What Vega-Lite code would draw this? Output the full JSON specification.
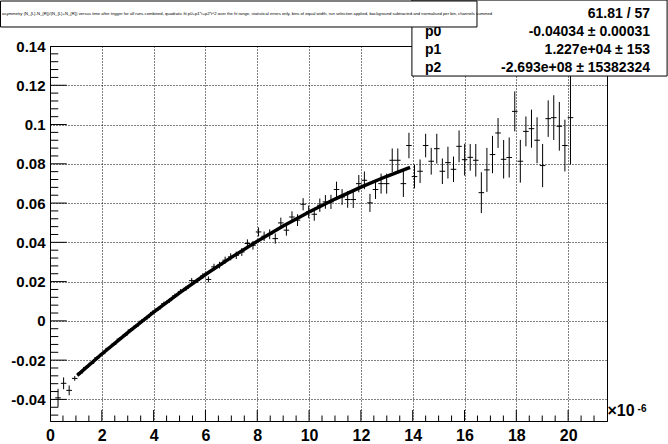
{
  "$schema": "https://vega.github.io/schema/vega-lite/v6.json",
  "autosize": "none",
  "width": 557,
  "height": 375,
  "padding": {"left": 50, "top": 46, "right": 61, "bottom": 23},
  "background": "white",
  "config": {
    "view": {"stroke": "black", "strokeWidth": 1},
    "font": "Liberation Sans"
  },
  "datasets": {
    "points": [
      {"x": 0.31, "y": -0.0392, "ey": 0.0046, "ex": 0.1075},
      {"x": 0.525, "y": -0.0318, "ey": 0.0030, "ex": 0.1075},
      {"x": 0.74, "y": -0.0354, "ey": 0.0025, "ex": 0.1075},
      {"x": 0.955, "y": -0.0293, "ey": 0.0012, "ex": 0.1075},
      {"x": 1.17, "y": -0.0265, "ey": 0.0008, "ex": 0.1075},
      {"x": 1.385, "y": -0.0237, "ey": 0.0008, "ex": 0.1075},
      {"x": 1.6, "y": -0.0216, "ey": 0.0008, "ex": 0.1075},
      {"x": 1.815, "y": -0.0188, "ey": 0.0008, "ex": 0.1075},
      {"x": 2.03, "y": -0.0167, "ey": 0.0008, "ex": 0.1075},
      {"x": 2.245, "y": -0.0140, "ey": 0.0008, "ex": 0.1075},
      {"x": 2.46, "y": -0.0119, "ey": 0.0009, "ex": 0.1075},
      {"x": 2.675, "y": -0.0093, "ey": 0.0009, "ex": 0.1075},
      {"x": 2.89, "y": -0.0073, "ey": 0.0009, "ex": 0.1075},
      {"x": 3.105, "y": -0.0046, "ey": 0.0009, "ex": 0.1075},
      {"x": 3.32, "y": -0.0027, "ey": 0.0009, "ex": 0.1075},
      {"x": 3.535, "y": -0.0002, "ey": 0.0010, "ex": 0.1075},
      {"x": 3.75, "y": 0.0017, "ey": 0.0010, "ex": 0.1075},
      {"x": 3.965, "y": 0.0043, "ey": 0.0010, "ex": 0.1075},
      {"x": 4.18, "y": 0.0061, "ey": 0.0010, "ex": 0.1075},
      {"x": 4.395, "y": 0.0087, "ey": 0.0011, "ex": 0.1075},
      {"x": 4.61, "y": 0.0103, "ey": 0.0011, "ex": 0.1075},
      {"x": 4.825, "y": 0.0128, "ey": 0.0011, "ex": 0.1075},
      {"x": 5.04, "y": 0.0150, "ey": 0.0012, "ex": 0.1075},
      {"x": 5.255, "y": 0.0166, "ey": 0.0012, "ex": 0.1075},
      {"x": 5.47, "y": 0.0205, "ey": 0.0013, "ex": 0.1075},
      {"x": 5.685, "y": 0.0206, "ey": 0.0013, "ex": 0.1075},
      {"x": 5.9, "y": 0.0229, "ey": 0.0014, "ex": 0.1075},
      {"x": 6.115, "y": 0.0211, "ey": 0.0015, "ex": 0.1075},
      {"x": 6.33, "y": 0.0275, "ey": 0.0016, "ex": 0.1075},
      {"x": 6.545, "y": 0.0284, "ey": 0.0017, "ex": 0.1075},
      {"x": 6.76, "y": 0.0309, "ey": 0.0018, "ex": 0.1075},
      {"x": 6.975, "y": 0.0326, "ey": 0.0018, "ex": 0.1075},
      {"x": 7.19, "y": 0.0334, "ey": 0.0019, "ex": 0.1075},
      {"x": 7.405, "y": 0.0351, "ey": 0.0020, "ex": 0.1075},
      {"x": 7.62, "y": 0.0394, "ey": 0.0021, "ex": 0.1075},
      {"x": 7.835, "y": 0.0385, "ey": 0.0022, "ex": 0.1075},
      {"x": 8.05, "y": 0.0453, "ey": 0.0023, "ex": 0.1075},
      {"x": 8.265, "y": 0.0431, "ey": 0.0024, "ex": 0.1075},
      {"x": 8.48, "y": 0.0441, "ey": 0.0025, "ex": 0.1075},
      {"x": 8.695, "y": 0.0419, "ey": 0.0026, "ex": 0.1075},
      {"x": 8.91, "y": 0.0499, "ey": 0.0027, "ex": 0.1075},
      {"x": 9.125, "y": 0.0462, "ey": 0.0028, "ex": 0.1075},
      {"x": 9.34, "y": 0.0529, "ey": 0.0029, "ex": 0.1075},
      {"x": 9.555, "y": 0.0513, "ey": 0.0030, "ex": 0.1075},
      {"x": 9.77, "y": 0.0594, "ey": 0.0031, "ex": 0.1075},
      {"x": 9.985, "y": 0.0555, "ey": 0.0032, "ex": 0.1075},
      {"x": 10.2, "y": 0.0543, "ey": 0.0033, "ex": 0.1075},
      {"x": 10.415, "y": 0.0589, "ey": 0.0034, "ex": 0.1075},
      {"x": 10.63, "y": 0.0606, "ey": 0.0035, "ex": 0.1075},
      {"x": 10.845, "y": 0.0606, "ey": 0.0036, "ex": 0.1075},
      {"x": 11.06, "y": 0.0669, "ey": 0.0040, "ex": 0.1075},
      {"x": 11.275, "y": 0.0631, "ey": 0.0040, "ex": 0.1075},
      {"x": 11.49, "y": 0.0618, "ey": 0.0042, "ex": 0.1075},
      {"x": 11.705, "y": 0.0618, "ey": 0.0043, "ex": 0.1075},
      {"x": 11.92, "y": 0.0699, "ey": 0.0044, "ex": 0.1075},
      {"x": 12.135, "y": 0.0716, "ey": 0.0045, "ex": 0.1075},
      {"x": 12.35, "y": 0.0601, "ey": 0.0046, "ex": 0.1075},
      {"x": 12.565, "y": 0.0669, "ey": 0.0048, "ex": 0.1075},
      {"x": 12.78, "y": 0.0699, "ey": 0.0051, "ex": 0.1075},
      {"x": 12.995, "y": 0.0699, "ey": 0.0051, "ex": 0.1075},
      {"x": 13.21, "y": 0.0818, "ey": 0.0060, "ex": 0.1075},
      {"x": 13.425, "y": 0.0818, "ey": 0.0060, "ex": 0.1075},
      {"x": 13.64, "y": 0.0699, "ey": 0.0068, "ex": 0.1075},
      {"x": 13.855, "y": 0.0893, "ey": 0.0065, "ex": 0.1075},
      {"x": 14.07, "y": 0.0735, "ey": 0.0060, "ex": 0.1075},
      {"x": 14.285, "y": 0.0762, "ey": 0.0060, "ex": 0.1075},
      {"x": 14.5, "y": 0.0893, "ey": 0.0060, "ex": 0.1075},
      {"x": 14.715, "y": 0.0813, "ey": 0.0068, "ex": 0.1075},
      {"x": 14.93, "y": 0.0877, "ey": 0.0076, "ex": 0.1075},
      {"x": 15.145, "y": 0.0762, "ey": 0.0065, "ex": 0.1075},
      {"x": 15.36, "y": 0.0806, "ey": 0.0081, "ex": 0.1075},
      {"x": 15.575, "y": 0.0772, "ey": 0.0065, "ex": 0.1075},
      {"x": 15.79, "y": 0.0889, "ey": 0.0081, "ex": 0.1075},
      {"x": 16.005, "y": 0.0821, "ey": 0.0081, "ex": 0.1075},
      {"x": 16.22, "y": 0.0833, "ey": 0.0068, "ex": 0.1075},
      {"x": 16.435, "y": 0.0818, "ey": 0.0083, "ex": 0.1075},
      {"x": 16.65, "y": 0.0653, "ey": 0.0104, "ex": 0.1075},
      {"x": 16.865, "y": 0.0769, "ey": 0.0112, "ex": 0.1075},
      {"x": 17.08, "y": 0.0847, "ey": 0.0095, "ex": 0.1075},
      {"x": 17.295, "y": 0.0957, "ey": 0.0076, "ex": 0.1075},
      {"x": 17.51, "y": 0.0823, "ey": 0.0098, "ex": 0.1075},
      {"x": 17.725, "y": 0.0832, "ey": 0.0102, "ex": 0.1075},
      {"x": 17.94, "y": 0.1067, "ey": 0.0102, "ex": 0.1075},
      {"x": 18.155, "y": 0.0813, "ey": 0.0109, "ex": 0.1075},
      {"x": 18.37, "y": 0.0965, "ey": 0.0076, "ex": 0.1075},
      {"x": 18.585, "y": 0.0979, "ey": 0.0097, "ex": 0.1075},
      {"x": 18.8, "y": 0.0920, "ey": 0.0117, "ex": 0.1075},
      {"x": 19.015, "y": 0.0791, "ey": 0.0110, "ex": 0.1075},
      {"x": 19.23, "y": 0.1030, "ey": 0.0093, "ex": 0.1075},
      {"x": 19.445, "y": 0.1035, "ey": 0.0114, "ex": 0.1075},
      {"x": 19.66, "y": 0.0991, "ey": 0.0124, "ex": 0.1075},
      {"x": 19.875, "y": 0.0893, "ey": 0.0132, "ex": 0.1075},
      {"x": 20.09, "y": 0.1035, "ey": 0.0238, "ex": 0.1075}
    ],
    "fit": [
      {"x": 1.05, "y": -0.027754},
      {"x": 2, "y": -0.016877},
      {"x": 3, "y": -0.005954},
      {"x": 4, "y": 0.004431},
      {"x": 5, "y": 0.014277},
      {"x": 6, "y": 0.023585},
      {"x": 7, "y": 0.032354},
      {"x": 8, "y": 0.040585},
      {"x": 9, "y": 0.048277},
      {"x": 10, "y": 0.05543},
      {"x": 11, "y": 0.062045},
      {"x": 12, "y": 0.068121},
      {"x": 13, "y": 0.073658},
      {"x": 13.9, "y": 0.078181}
    ],
    "xmajor": [{"v": 2}, {"v": 4}, {"v": 6}, {"v": 8}, {"v": 10}, {"v": 12}, {"v": 14}, {"v": 16}, {"v": 18}, {"v": 20}],
    "xminor": [{"v": 0.5}, {"v": 1}, {"v": 1.5}, {"v": 2.5}, {"v": 3}, {"v": 3.5}, {"v": 4.5}, {"v": 5}, {"v": 5.5}, {"v": 6.5}, {"v": 7}, {"v": 7.5}, {"v": 8.5}, {"v": 9}, {"v": 9.5}, {"v": 10.5}, {"v": 11}, {"v": 11.5}, {"v": 12.5}, {"v": 13}, {"v": 13.5}, {"v": 14.5}, {"v": 15}, {"v": 15.5}, {"v": 16.5}, {"v": 17}, {"v": 17.5}, {"v": 18.5}, {"v": 19}, {"v": 19.5}, {"v": 20.5}, {"v": 21}],
    "ymajor": [{"v": -0.04}, {"v": -0.02}, {"v": 0}, {"v": 0.02}, {"v": 0.04}, {"v": 0.06}, {"v": 0.08}, {"v": 0.1}, {"v": 0.12}],
    "yminor": [{"v": -0.048}, {"v": -0.044}, {"v": -0.036}, {"v": -0.032}, {"v": -0.028}, {"v": -0.024}, {"v": -0.016}, {"v": -0.012}, {"v": -0.008}, {"v": -0.004}, {"v": 0.004}, {"v": 0.008}, {"v": 0.012}, {"v": 0.016}, {"v": 0.024}, {"v": 0.028}, {"v": 0.032}, {"v": 0.036}, {"v": 0.044}, {"v": 0.048}, {"v": 0.052}, {"v": 0.056}, {"v": 0.064}, {"v": 0.068}, {"v": 0.072}, {"v": 0.076}, {"v": 0.084}, {"v": 0.088}, {"v": 0.092}, {"v": 0.096}, {"v": 0.104}, {"v": 0.108}, {"v": 0.112}, {"v": 0.116}, {"v": 0.124}, {"v": 0.128}, {"v": 0.132}, {"v": 0.136}]
  },
  "layer": [
    {
      "data": {"name": "fit"},
      "mark": {"type": "line", "color": "black", "strokeWidth": 3.5},
      "encoding": {
        "x": {
          "field": "x", "type": "quantitative", "title": null,
          "scale": {"domain": [0, 21.5], "nice": false, "zero": false},
          "axis": {
            "values": [0, 2, 4, 6, 8, 10, 12, 14, 16, 18, 20],
            "domainColor": "black",
            "ticks": false,
            "grid": true,
            "gridColor": "black",
            "gridOpacity": 1,
            "gridDash": [1, 2],
            "labelExpr": "'' + datum.value",
            "labelFont": "Liberation Sans",
            "labelFontWeight": "bold",
            "labelFontSize": 16,
            "labelColor": "black",
            "labelPadding": 6,
            "labelFlush": false,
            "labelOverlap": false,
            "labelBound": false
          }
        },
        "y": {
          "field": "y", "type": "quantitative", "title": null,
          "scale": {"domain": [-0.051, 0.14], "nice": false, "zero": false},
          "axis": {
            "values": [-0.04, -0.02, 0, 0.02, 0.04, 0.06, 0.08, 0.1, 0.12, 0.14],
            "domainColor": "black",
            "ticks": false,
            "grid": true,
            "gridColor": "black",
            "gridOpacity": 1,
            "gridDash": [1, 2],
            "labelExpr": "'' + datum.value",
            "labelFont": "Liberation Sans",
            "labelFontWeight": "bold",
            "labelFontSize": 15,
            "labelColor": "black",
            "labelPadding": 5,
            "labelFlush": false,
            "labelOverlap": false,
            "labelBound": false
          }
        }
      }
    },
    {
      "data": {"name": "xmajor"},
      "mark": {"type": "rule", "color": "black", "strokeWidth": 1},
      "encoding": {
        "x": {"field": "v", "type": "quantitative"},
        "y": {"datum": -0.051, "type": "quantitative"},
        "y2": {"datum": -0.0454}
      }
    },
    {
      "data": {"name": "xminor"},
      "mark": {"type": "rule", "color": "black", "strokeWidth": 1},
      "encoding": {
        "x": {"field": "v", "type": "quantitative"},
        "y": {"datum": -0.051, "type": "quantitative"},
        "y2": {"datum": -0.0482}
      }
    },
    {
      "data": {"name": "ymajor"},
      "mark": {"type": "rule", "color": "black", "strokeWidth": 1},
      "encoding": {
        "y": {"field": "v", "type": "quantitative"},
        "x": {"datum": 0, "type": "quantitative"},
        "x2": {"datum": 0.645}
      }
    },
    {
      "data": {"name": "yminor"},
      "mark": {"type": "rule", "color": "black", "strokeWidth": 1},
      "encoding": {
        "y": {"field": "v", "type": "quantitative"},
        "x": {"datum": 0, "type": "quantitative"},
        "x2": {"datum": 0.32}
      }
    },
    {
      "data": {"name": "points"},
      "mark": {"type": "errorbar", "color": "black", "thickness": 1},
      "encoding": {
        "x": {"field": "x", "type": "quantitative"},
        "y": {"field": "y", "type": "quantitative"},
        "yError": {"field": "ey"}
      }
    },
    {
      "data": {"name": "points"},
      "mark": {"type": "errorbar", "color": "black", "thickness": 1},
      "encoding": {
        "y": {"field": "y", "type": "quantitative"},
        "x": {"field": "x", "type": "quantitative"},
        "xError": {"field": "ex"}
      }
    },
    {
      "data": {"values": [{}]},
      "mark": {"type": "rect", "fill": "white", "stroke": "black", "strokeWidth": 1},
      "encoding": {
        "x": {"datum": 13.97, "type": "quantitative"},
        "x2": {"datum": 23.82},
        "y": {"datum": 0.1634, "type": "quantitative"},
        "y2": {"datum": 0.1247}
      }
    },
    {
      "data": {"values": [{}]},
      "mark": {"type": "text", "text": "61.81 / 57", "align": "right", "baseline": "alphabetic", "font": "Liberation Sans", "fontWeight": "bold", "fontSize": 14, "color": "black"},
      "encoding": {"x": {"datum": 23.16, "type": "quantitative"}, "y": {"datum": 0.15411, "type": "quantitative"}}
    },
    {
      "data": {"values": [{}]},
      "mark": {"type": "text", "text": "p0", "align": "left", "baseline": "alphabetic", "font": "Liberation Sans", "fontWeight": "bold", "fontSize": 14, "color": "black"},
      "encoding": {"x": {"datum": 14.475, "type": "quantitative"}, "y": {"datum": 0.14525, "type": "quantitative"}}
    },
    {
      "data": {"values": [{}]},
      "mark": {"type": "text", "text": "-0.04034 ± 0.00031", "align": "right", "baseline": "alphabetic", "font": "Liberation Sans", "fontWeight": "bold", "fontSize": 14, "color": "black"},
      "encoding": {"x": {"datum": 23.16, "type": "quantitative"}, "y": {"datum": 0.14525, "type": "quantitative"}}
    },
    {
      "data": {"values": [{}]},
      "mark": {"type": "text", "text": "p1", "align": "left", "baseline": "alphabetic", "font": "Liberation Sans", "fontWeight": "bold", "fontSize": 14, "color": "black"},
      "encoding": {"x": {"datum": 14.475, "type": "quantitative"}, "y": {"datum": 0.13618, "type": "quantitative"}}
    },
    {
      "data": {"values": [{}]},
      "mark": {"type": "text", "text": "1.227e+04 ± 153", "align": "right", "baseline": "alphabetic", "font": "Liberation Sans", "fontWeight": "bold", "fontSize": 14, "color": "black"},
      "encoding": {"x": {"datum": 23.16, "type": "quantitative"}, "y": {"datum": 0.13618, "type": "quantitative"}}
    },
    {
      "data": {"values": [{}]},
      "mark": {"type": "text", "text": "p2", "align": "left", "baseline": "alphabetic", "font": "Liberation Sans", "fontWeight": "bold", "fontSize": 14, "color": "black"},
      "encoding": {"x": {"datum": 14.475, "type": "quantitative"}, "y": {"datum": 0.12691, "type": "quantitative"}}
    },
    {
      "data": {"values": [{}]},
      "mark": {"type": "text", "text": "-2.693e+08 ± 15382324", "align": "right", "baseline": "alphabetic", "font": "Liberation Sans", "fontWeight": "bold", "fontSize": 14, "color": "black"},
      "encoding": {"x": {"datum": 23.16, "type": "quantitative"}, "y": {"datum": 0.12691, "type": "quantitative"}}
    },
    {
      "data": {"values": [{}]},
      "mark": {"type": "rect", "fill": "white", "stroke": "black", "strokeWidth": 1},
      "encoding": {
        "x": {"datum": -1.911, "type": "quantitative"},
        "x2": {"datum": 16.482},
        "y": {"datum": 0.16292, "type": "quantitative"},
        "y2": {"datum": 0.14968}
      }
    },
    {
      "data": {"values": [{}]},
      "mark": {"type": "text", "text": "asymmetry (N_{L}-N_{R})/(N_{L}+N_{R}) versus time after trigger for all runs combined, quadratic fit p0+p1*t+p2*t^2 over the fit range, statistical errors only, bins of equal width, run selection applied, background subtracted and normalised per bin, channels summed", "align": "left", "baseline": "middle", "font": "Liberation Sans", "fontSize": 4.2, "color": "black"},
      "encoding": {"x": {"datum": -1.853, "type": "quantitative"}, "y": {"datum": 0.1563, "type": "quantitative"}}
    },
    {
      "data": {"values": [{}]},
      "mark": {"type": "text", "text": "×10", "align": "left", "baseline": "alphabetic", "font": "Liberation Sans", "fontWeight": "bold", "fontSize": 16, "color": "black"},
      "encoding": {"x": {"datum": 21.52, "type": "quantitative"}, "y": {"datum": -0.04833, "type": "quantitative"}}
    },
    {
      "data": {"values": [{}]},
      "mark": {"type": "text", "text": "-6", "align": "left", "baseline": "alphabetic", "font": "Liberation Sans", "fontWeight": "bold", "fontSize": 10, "color": "black"},
      "encoding": {"x": {"datum": 22.68, "type": "quantitative"}, "y": {"datum": -0.04645, "type": "quantitative"}}
    }
  ]
}
